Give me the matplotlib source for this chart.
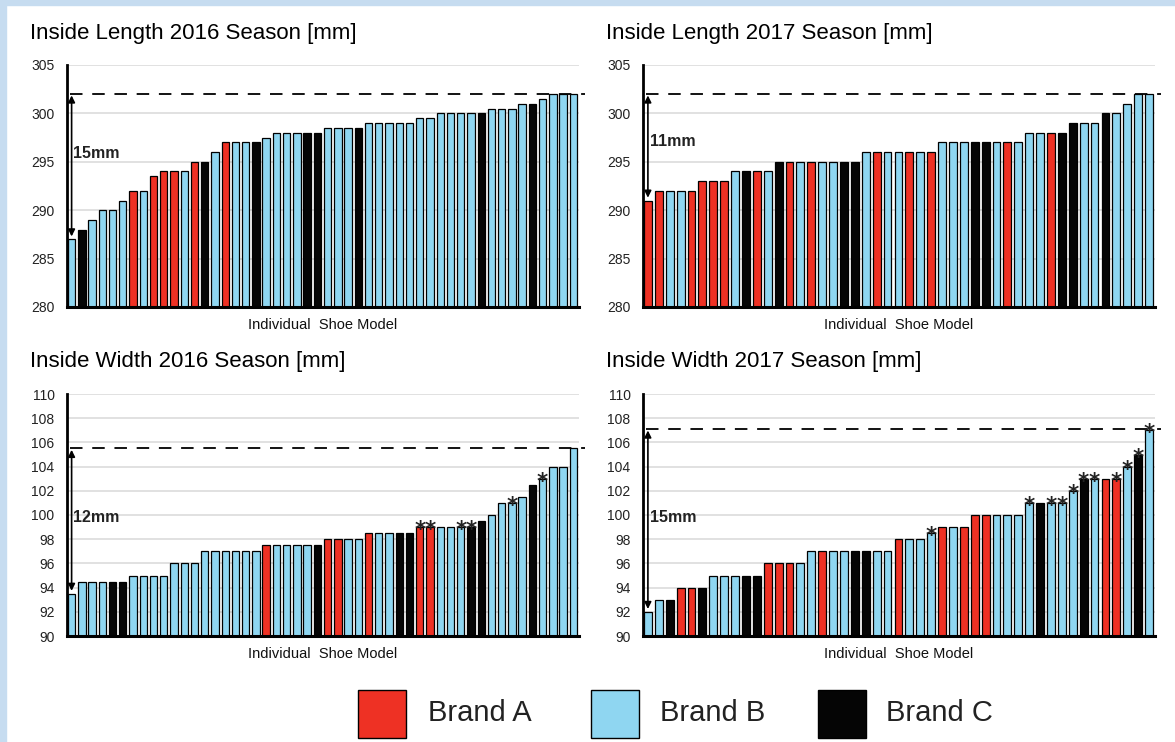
import matplotlib
matplotlib.use("Agg")
import matplotlib.pyplot as plt
from matplotlib.patches import Rectangle

plt.rcParams['font.family'] = ['Liberation Sans', 'DejaVu Sans']
plt.rcParams['lines.scale_dashes'] = False

# 1. data (sorted per panel)
len16_vals = [287, 288, 289, 290, 290, 291, 292, 292, 293.5, 294, 294, 294, 295, 295, 296,
              297, 297, 297, 297, 297.5, 298, 298, 298, 298, 298, 298.5, 298.5, 298.5, 298.5,
              299, 299, 299, 299, 299, 299.5, 299.5, 300, 300, 300, 300, 300, 300.5, 300.5,
              300.5, 301, 301, 301.5, 302, 302, 302]
len16_brand = "BCBBBBABAAABACBABBCBBBBCC" + "BBBC" + "BBBBB" + "BB" + "BBBBC" + "BBB" + "BC" + "B" + "BBB"

len17_vals = [291, 292, 292, 292, 292, 293, 293, 293, 294, 294, 294, 294, 295, 295, 295, 295,
              295, 295, 295, 295, 296, 296, 296, 296, 296, 296, 296, 297, 297, 297, 297, 297,
              297, 297, 297, 298, 298, 298, 298, 299, 299, 299, 300, 300, 301, 302, 302]
len17_brand = "AABBAAAA" + "BCAB" + "CABABBCC" + "BABBABA" + "BBBCCBAB" + "BBAC" + "CBB" + "CB" + "B" + "BB"

wid16_vals = [93.5, 94.5, 94.5, 94.5, 94.5, 94.5, 95, 95, 95, 95, 96, 96, 96, 97, 97, 97, 97,
              97, 97, 97.5, 97.5, 97.5, 97.5, 97.5, 97.5, 98, 98, 98, 98, 98.5, 98.5, 98.5, 98.5,
              98.5, 99, 99, 99, 99, 99, 99, 99.5, 100, 101, 101, 101.5, 102.5, 103, 104, 104, 105.5]
wid16_brand = ("BBBBCC" + "BBBB" + "BBB" + "BBBBBB" + "ABBBBC" + "AABB" + "ABBCC" + "AABBBC"
               + "C" + "B" + "BB" + "B" + "C" + "B" + "BB" + "B")
wid16_stars = [34, 35, 38, 39, 43, 46]

wid17_vals = [92, 93, 93, 94, 94, 94, 95, 95, 95, 95, 95, 96, 96, 96, 96, 97, 97, 97, 97, 97,
              97, 97, 97, 98, 98, 98, 98.5, 99, 99, 99, 100, 100, 100, 100, 100, 101, 101, 101,
              101, 102, 103, 103, 103, 103, 104, 105, 107]
wid17_brand = ("BBCAACBBBCC" + "AAAB" + "BABBCCBB" + "ABB" + "B" + "ABA" + "AABB" + "B"
               + "BCBB" + "B" + "CBAA" + "B" + "C" + "B")
wid17_stars = [26, 35, 37, 38, 39, 40, 41, 43, 44, 45, 46]

colors = {"A": "#EE3124", "B": "#8FD6F1", "C": "#050505"}
brand_names = ["Brand A", "Brand B", "Brand C"]

W, H = 1175, 742
fig = plt.figure(figsize=(W / 100, H / 100), dpi=100)

# light blue frame on top/left like the original slide
fig.patches.append(Rectangle((0, 1 - 5 / H), 1, 5 / H, transform=fig.transFigure,
                             color="#C6DCF0", zorder=0))
fig.patches.append(Rectangle((0, 0), 6 / W, 1, transform=fig.transFigure,
                             color="#C6DCF0", zorder=0))


def panel(px, py, title, vals, brands, ylim, ystep, limit, label, label_y, stars=()):
    # px, py : pixel position of axes (left, top)
    ax = fig.add_axes([px / W, 1 - (py + 242) / H, 512 / W, 242 / H])
    n = len(vals)
    x = list(range(n))
    ax.bar(x, [v - ylim[0] for v in vals], bottom=ylim[0], width=0.72,
           color=[colors[b] for b in brands], edgecolor="black", linewidth=0.9, zorder=3)
    ax.set_xlim(-0.45, n - 0.45)
    ax.set_ylim(*ylim)
    ax.set_yticks(range(ylim[0], ylim[1] + 1, ystep))
    ax.set_xticks([])
    ax.tick_params(axis="y", length=0, pad=9, labelsize=10, labelcolor="#222222")
    ax.grid(axis="y", color="#D9D9D9", linewidth=1.1, zorder=0)
    ax.set_axisbelow(True)
    for s in ["top", "right"]:
        ax.spines[s].set_visible(False)
    ax.spines["left"].set_linewidth(2)
    ax.spines["bottom"].set_linewidth(2.2)
    ax.spines["bottom"].set_zorder(4)

    # limit line + arrow
    ax.axhline(limit, xmin=0.005, xmax=1.012, color="black", linewidth=1.3,
               dashes=(9, 7), clip_on=False, zorder=4)
    ax.annotate("", xy=(0, vals[0]), xytext=(0, limit),
                arrowprops=dict(arrowstyle="<|-|>", color="black", lw=1.2,
                                mutation_scale=10, shrinkA=1, shrinkB=2), zorder=5)
    ax.text(0.15, label_y, label, fontsize=11.5, fontweight="bold", ha="left", va="center",
            color="#222222", zorder=5)

    for i in stars:
        ax.annotate("*", xy=(i, vals[i]), xytext=(0, -6.5), textcoords="offset points",
                    ha="center", va="baseline", fontsize=15.5, fontweight="bold",
                    family="DejaVu Sans", color="#222222", zorder=5)

    ax.text(0.5, -0.075, "Individual  Shoe Model", transform=ax.transAxes, ha="center",
            va="center", fontsize=10.5, color="#111111")
    fig.text((px - 37) / W, 1 - (py - 32) / H, title, fontsize=16, ha="left", va="center")
    return ax


panel(67, 65, "Inside Length 2016 Season [mm]", len16_vals, len16_brand,
      (280, 305), 5, 302, "15mm", 295.9)
panel(643, 65, "Inside Length 2017 Season [mm]", len17_vals, len17_brand,
      (280, 305), 5, 302, "11mm", 297.1)
panel(67, 394, "Inside Width 2016 Season [mm]", wid16_vals, wid16_brand,
      (90, 110), 2, 105.5, "12mm", 99.8, wid16_stars)
panel(643, 394, "Inside Width 2017 Season [mm]", wid17_vals, wid17_brand,
      (90, 110), 2, 107.1, "15mm", 99.8, wid17_stars)

# 2. legend (big squares at the bottom)
sq_x = [358, 591, 818]
txt_x = [428, 660, 886]
for b, name, sx, tx in zip("ABC", brand_names, sq_x, txt_x):
    fig.patches.append(Rectangle((sx / W, 1 - 738 / H), 48 / W, 48 / H,
                                 transform=fig.transFigure, facecolor=colors[b],
                                 edgecolor="black", linewidth=1))
    fig.text(tx / W, 1 - 713 / H, name, fontsize=21, ha="left", va="center", color="#222222")

fig.savefig("out.png", dpi=100)
